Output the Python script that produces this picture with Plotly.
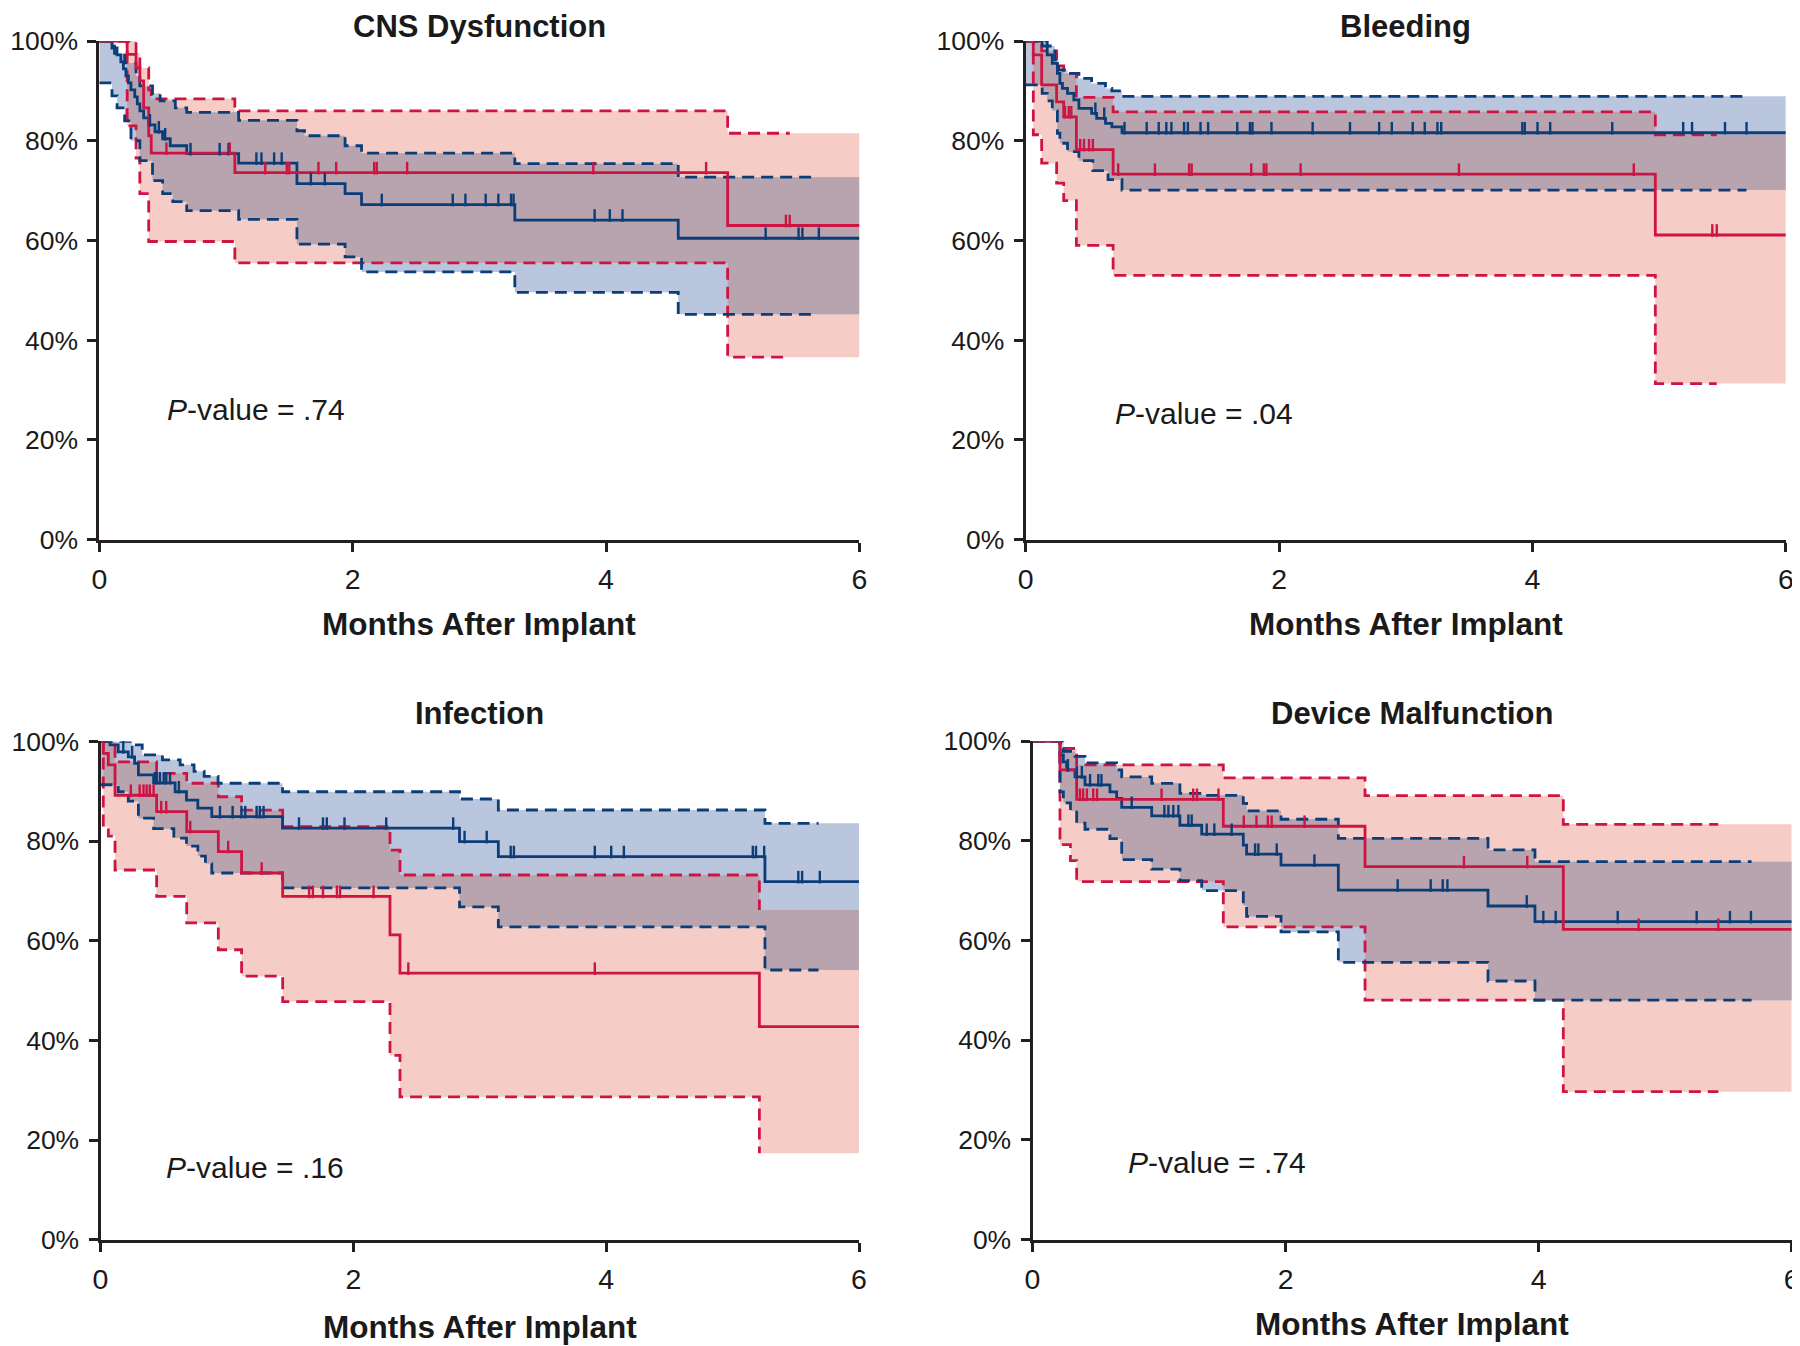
import plotly.graph_objects as go

# ---------------- data ----------------
panel_titles = ["CNS Dysfunction", "Bleeding", "Infection", "Device Malfunction"]
p_value_text = [".74", ".04", ".16", ".74"]
p_value_t = [0.517, 0.693, 0.504, 0.74]
p_value_s = [0.262, 0.2535, 0.145, 0.154]
x_tick_vals = [0, 2, 4, 6]
x_tick_text = ["0", "2", "4", "6"]
y_tick_vals = [0, 0.2, 0.4, 0.6, 0.8, 1.0]
y_tick_text = ["0%", "20%", "40%", "60%", "80%", "100%"]
x_axis_title = "Months After Implant"
months_max = 6.0

# --- CNS Dysfunction ---
cns_red_t = [0, 0.22, 0.29, 0.32, 0.35, 0.39, 0.41, 1.07, 4.96]
cns_red_s = [1.0, 0.973, 0.946, 0.92, 0.866, 0.81, 0.775, 0.736, 0.63]
cns_red_cens = [0.11, 0.53, 1.03, 1.31, 1.48, 1.50, 1.73, 1.87, 2.17, 2.19, 2.43, 3.90, 4.79, 5.42, 5.45]
cns_red_up_t = [0, 0.29, 0.32, 0.39, 0.41, 1.07, 4.96]
cns_red_up_s = [1.0, 0.976, 0.946, 0.902, 0.884, 0.86, 0.815]
cns_red_lo_t = [0, 0.22, 0.29, 0.32, 0.39, 1.07, 4.96]
cns_red_lo_s = [1.0, 0.83, 0.765, 0.694, 0.598, 0.555, 0.366]
cns_red_ci_end = 5.45

cns_blue_t = [0, 0.10, 0.14, 0.17, 0.19, 0.21, 0.23, 0.25, 0.28, 0.30, 0.32, 0.35, 0.39,
              0.44, 0.50, 0.56, 0.69, 1.10, 1.56, 1.94, 2.07, 3.28, 4.57]
cns_blue_s = [1.0, 0.986, 0.972, 0.958, 0.944, 0.93, 0.916, 0.902, 0.888, 0.874, 0.86, 0.846, 0.832,
              0.818, 0.804, 0.79, 0.774, 0.755, 0.714, 0.694, 0.672, 0.641, 0.6045]
cns_blue_cens = [0.03, 0.08, 0.40, 0.47, 0.52, 0.72, 0.95, 1.02, 1.24, 1.28, 1.38, 1.44, 1.67, 1.78,
                 2.23, 2.79, 2.89, 3.05, 3.15, 3.25, 3.27, 3.91, 4.03, 4.13, 5.26, 5.52, 5.55, 5.68]
cns_blue_up_t = [0, 0.12, 0.20, 0.29, 0.32, 0.42, 0.48, 0.60, 0.69, 1.10, 1.56, 1.62, 1.94, 2.07, 3.28, 4.57]
cns_blue_up_s = [1.0, 0.975, 0.956, 0.93, 0.91, 0.895, 0.88, 0.866, 0.857, 0.841, 0.82, 0.81, 0.79, 0.775, 0.754, 0.727]
cns_blue_lo_t = [0, 0.10, 0.14, 0.20, 0.25, 0.32, 0.42, 0.50, 0.58, 0.69, 1.10, 1.56, 1.94, 2.07, 3.28, 4.57]
cns_blue_lo_s = [0.916, 0.89, 0.866, 0.84, 0.80, 0.76, 0.72, 0.694, 0.678, 0.66, 0.6425, 0.5925, 0.567, 0.537, 0.496, 0.452]
cns_blue_ci_end = 5.67

# --- Bleeding ---
bleed_red_t = [0, 0.06, 0.126, 0.244, 0.30, 0.40, 0.69, 4.97]
bleed_red_s = [1.0, 0.972, 0.912, 0.878, 0.848, 0.782, 0.733, 0.611]
bleed_red_cens = [0.31, 0.34, 0.36, 0.43, 0.46, 0.50, 0.53, 0.73, 1.02, 1.29, 1.31, 1.78, 1.88, 1.90,
                  2.17, 3.42, 4.80, 5.42, 5.455]
bleed_red_up_t = [0, 0.126, 0.244, 0.30, 0.40, 0.69, 4.97]
bleed_red_up_s = [1.0, 0.98, 0.95, 0.935, 0.887, 0.858, 0.812]
bleed_red_lo_t = [0, 0.06, 0.126, 0.244, 0.30, 0.40, 0.69, 4.97]
bleed_red_lo_s = [1.0, 0.812, 0.755, 0.715, 0.68, 0.59, 0.53, 0.313]
bleed_red_ci_end = 5.455

bleed_blue_t = [0, 0.13, 0.17, 0.21, 0.25, 0.27, 0.29, 0.33, 0.38, 0.42, 0.52, 0.56, 0.63, 0.68, 0.76]
bleed_blue_s = [1.0, 0.99, 0.972, 0.955, 0.935, 0.915, 0.905, 0.895, 0.882, 0.865, 0.855, 0.845, 0.835, 0.828, 0.816]
bleed_blue_cens = [0.06, 0.08, 0.10, 0.55, 0.62, 0.78, 0.955, 1.05, 1.11, 1.15, 1.25, 1.28, 1.38, 1.44,
                   1.67, 1.77, 1.79, 1.94, 2.265, 2.56, 2.79, 2.89, 3.055, 3.15, 3.25, 3.28, 3.92, 3.94,
                   4.04, 4.14, 4.63, 5.19, 5.26, 5.52, 5.69]
bleed_blue_up_t = [0, 0.17, 0.23, 0.26, 0.33, 0.42, 0.52, 0.63, 0.68, 0.76]
bleed_blue_up_s = [1.0, 0.99, 0.962, 0.942, 0.935, 0.925, 0.915, 0.905, 0.90, 0.889]
bleed_blue_lo_t = [0, 0.13, 0.17, 0.21, 0.25, 0.27, 0.33, 0.42, 0.53, 0.65, 0.76]
bleed_blue_lo_s = [0.912, 0.895, 0.88, 0.86, 0.815, 0.795, 0.778, 0.76, 0.74, 0.722, 0.701]
bleed_blue_ci_end = 5.69

# --- Infection ---
inf_red_t = [0, 0.022, 0.062, 0.115, 0.444, 0.682, 0.932, 1.116, 1.441, 2.29, 2.369, 5.212]
inf_red_s = [1.0, 0.976, 0.953, 0.892, 0.859, 0.819, 0.779, 0.736, 0.689, 0.612, 0.535, 0.428]
inf_red_cens = [0.24, 0.31, 0.34, 0.365, 0.39, 0.42, 0.48, 0.52, 0.71, 1.01, 1.275, 1.65, 1.68, 1.76,
                1.87, 1.895, 2.16, 2.435, 3.91]
inf_red_up_t = [0, 0.115, 0.444, 0.682, 0.932, 1.116, 1.441, 2.29, 2.369, 5.212]
inf_red_up_s = [1.0, 0.959, 0.936, 0.916, 0.889, 0.862, 0.829, 0.782, 0.732, 0.662]
inf_red_lo_t = [0, 0.022, 0.062, 0.115, 0.444, 0.682, 0.932, 1.116, 1.441, 2.29, 2.369, 5.212]
inf_red_lo_s = [1.0, 0.829, 0.81, 0.742, 0.689, 0.636, 0.582, 0.529, 0.478, 0.37, 0.287, 0.174]
inf_red_ci_end = 5.212

inf_blue_t = [0, 0.075, 0.14, 0.22, 0.27, 0.30, 0.42, 0.59, 0.68, 0.77, 0.88, 1.44, 2.84, 3.147, 5.256]
inf_blue_s = [1.0, 0.993, 0.979, 0.969, 0.956, 0.933, 0.917, 0.899, 0.882, 0.866, 0.849, 0.826, 0.799, 0.769, 0.7186]
inf_blue_cens = [0.06, 0.09, 0.115, 0.18, 0.25, 0.43, 0.445, 0.47, 0.50, 0.52, 0.55, 0.62, 0.945, 1.045,
                 1.115, 1.145, 1.235, 1.26, 1.29, 1.57, 1.76, 1.79, 1.93, 2.26, 2.79, 2.88, 3.055, 3.245,
                 3.27, 3.91, 4.04, 4.14, 5.16, 5.185, 5.25, 5.52, 5.55, 5.69]
inf_blue_up_t = [0, 0.25, 0.33, 0.49, 0.63, 0.74, 0.82, 0.93, 1.44, 2.84, 3.147, 5.256]
inf_blue_up_s = [1.0, 0.993, 0.973, 0.963, 0.953, 0.94, 0.93, 0.916, 0.899, 0.8845, 0.8624, 0.8357]
inf_blue_lo_t = [0, 0.14, 0.22, 0.30, 0.42, 0.58, 0.68, 0.77, 0.83, 0.88, 1.44, 2.84, 3.147, 5.256]
inf_blue_lo_s = [0.913, 0.899, 0.88, 0.846, 0.825, 0.806, 0.79, 0.77, 0.755, 0.736, 0.706, 0.668, 0.628, 0.5414]
inf_blue_ci_end = 5.68

# --- Device Malfunction ---
dev_red_t = [0, 0.217, 0.349, 1.508, 2.628, 4.195]
dev_red_s = [1.0, 0.942, 0.883, 0.829, 0.748, 0.6223]
dev_red_cens = [0.375, 0.40, 0.43, 0.48, 0.51, 1.02, 1.27, 1.30, 1.47, 1.67, 1.77, 1.86, 1.89, 2.15,
                3.41, 3.91, 4.79, 5.42]
dev_red_up_t = [0, 0.217, 0.349, 1.508, 2.628, 4.195]
dev_red_up_s = [1.0, 0.985, 0.952, 0.926, 0.8904, 0.8329]
dev_red_lo_t = [0, 0.217, 0.30, 0.349, 1.508, 2.628, 4.195]
dev_red_lo_s = [1.0, 0.792, 0.76, 0.718, 0.627, 0.48, 0.2965]
dev_red_ci_end = 5.42

dev_blue_t = [0, 0.217, 0.244, 0.27, 0.336, 0.415, 0.612, 0.665, 0.705, 0.942, 1.165, 1.337, 1.666,
              1.692, 1.964, 2.417, 3.6, 3.971]
dev_blue_s = [1.0, 0.972, 0.958, 0.942, 0.928, 0.912, 0.898, 0.885, 0.867, 0.85, 0.831, 0.813, 0.791,
              0.773, 0.751, 0.701, 0.669, 0.6375]
dev_blue_cens = [0.06, 0.086, 0.112, 0.138, 0.157, 0.28, 0.35, 0.39, 0.455, 0.52, 0.545, 0.784, 1.042,
                 1.074, 1.113, 1.153, 1.232, 1.258, 1.377, 1.437, 1.574, 1.759, 1.785, 1.93, 2.228,
                 2.886, 3.147, 3.242, 3.279, 3.906, 4.037, 4.135, 4.625, 5.249, 5.512, 5.678]
dev_blue_up_t = [0, 0.244, 0.336, 0.415, 0.665, 0.705, 0.942, 1.165, 1.337, 1.666, 1.692, 1.964, 2.417, 3.6, 3.971]
dev_blue_up_s = [1.0, 0.979, 0.969, 0.956, 0.942, 0.928, 0.915, 0.895, 0.891, 0.875, 0.86, 0.843, 0.8048, 0.7814, 0.7579]
dev_blue_lo_t = [0, 0.217, 0.244, 0.30, 0.349, 0.415, 0.612, 0.705, 0.942, 1.165, 1.337, 1.666, 1.692,
                 1.964, 2.417, 3.6, 3.971]
dev_blue_lo_s = [1.0, 0.898, 0.876, 0.86, 0.835, 0.823, 0.804, 0.762, 0.743, 0.72, 0.70, 0.67, 0.648,
                 0.617, 0.556, 0.5186, 0.48]
dev_blue_ci_end = 5.683

# ---------------- styles ----------------
RED = "#CD1443"
BLUE = "#0B3E78"
RED_FILL = "#F5CDC6"
BLUE_FILL = "#B9C6DD"
BOTH_FILL = "#B7A4AF"
AXIS = "#231F20"
TXT = "#1a1a1a"
FONT = "Liberation Sans, Arial, Helvetica, sans-serif"
PAGE_OFF = 8                       # default page margin of the html body
W, H = 1800 - PAGE_OFF, 1346 - PAGE_OFF
LW = 2.8

# plot-area pixel boxes in window pixels (left, right, top, bottom)
boxes = [(99.3, 859.4, 41.0, 539.7), (1025.7, 1785.8, 41.0, 539.7),
         (100.5, 859.0, 741.4, 1239.9), (1032.5, 1791.7, 741.0, 1239.5)]
xtitle_py = [624, 624, 1327, 1324]


def px_x(p):
    return (p - PAGE_OFF) / W


def px_y(p):
    return 1 - (p - PAGE_OFF) / H


def group(t, s, cens, up_t, up_s, lo_t, lo_s, ci_end):
    return dict(t=t, s=s, cens=cens, up_t=up_t, up_s=up_s, lo_t=lo_t, lo_s=lo_s, ci_end=ci_end)


panels = [
    (group(cns_red_t, cns_red_s, cns_red_cens, cns_red_up_t, cns_red_up_s, cns_red_lo_t, cns_red_lo_s, cns_red_ci_end),
     group(cns_blue_t, cns_blue_s, cns_blue_cens, cns_blue_up_t, cns_blue_up_s, cns_blue_lo_t, cns_blue_lo_s, cns_blue_ci_end)),
    (group(bleed_red_t, bleed_red_s, bleed_red_cens, bleed_red_up_t, bleed_red_up_s, bleed_red_lo_t, bleed_red_lo_s, bleed_red_ci_end),
     group(bleed_blue_t, bleed_blue_s, bleed_blue_cens, bleed_blue_up_t, bleed_blue_up_s, bleed_blue_lo_t, bleed_blue_lo_s, bleed_blue_ci_end)),
    (group(inf_red_t, inf_red_s, inf_red_cens, inf_red_up_t, inf_red_up_s, inf_red_lo_t, inf_red_lo_s, inf_red_ci_end),
     group(inf_blue_t, inf_blue_s, inf_blue_cens, inf_blue_up_t, inf_blue_up_s, inf_blue_lo_t, inf_blue_lo_s, inf_blue_ci_end)),
    (group(dev_red_t, dev_red_s, dev_red_cens, dev_red_up_t, dev_red_up_s, dev_red_lo_t, dev_red_lo_s, dev_red_ci_end),
     group(dev_blue_t, dev_blue_s, dev_blue_cens, dev_blue_up_t, dev_blue_up_s, dev_blue_lo_t, dev_blue_lo_s, dev_blue_ci_end)),
]


def step_eval(ts, vs, x):
    v = vs[0]
    for t, s in zip(ts, vs):
        if t <= x + 1e-12:
            v = s
        else:
            break
    return v


def band_polygon(lo_fns, hi_fns, breaks):
    bps = sorted(set([b for b in breaks if b < months_max] + [months_max]))
    runs, cur = [], []
    for a, b in zip(bps[:-1], bps[1:]):
        lo = max(f(a) for f in lo_fns)
        hi = min(f(a) for f in hi_fns)
        if hi > lo + 1e-9:
            cur.append((a, b, lo, hi))
        else:
            if cur:
                runs.append(cur)
            cur = []
    if cur:
        runs.append(cur)
    xs, ys = [], []
    for run in runs:
        pts = []
        for a, b, lo, hi in run:
            pts += [(a, hi), (b, hi)]
        for a, b, lo, hi in reversed(run):
            pts += [(b, lo), (a, lo)]
        xs += [p[0] for p in pts] + [None]
        ys += [p[1] for p in pts] + [None]
    return xs, ys


fig = go.Figure()
annotations = []
layout_axes = {}

for i, (red, blue) in enumerate(panels):
    n = "" if i == 0 else str(i + 1)
    xa, ya = "x" + n, "y" + n
    l, r, t, b = boxes[i]
    common = dict(ticks="outside", ticklen=9, tickwidth=3, tickcolor=AXIS, showline=True, linewidth=3,
                  linecolor=AXIS, showgrid=False, zeroline=False, automargin=False, fixedrange=True)
    layout_axes["xaxis" + n] = dict(domain=[px_x(l), px_x(r)], range=[0, months_max], anchor=ya,
                                    tickvals=x_tick_vals, ticktext=x_tick_text, ticklabelstandoff=3,
                                    tickfont=dict(size=28.5, color=TXT, family=FONT), **common)
    layout_axes["yaxis" + n] = dict(domain=[px_y(b), px_y(t)], range=[0, 1], anchor=xa,
                                    tickvals=y_tick_vals, ticktext=y_tick_text, ticklabelstandoff=4,
                                    tickfont=dict(size=26.5, color=TXT, family=FONT), **common)

    def fns(g):
        return (lambda x, g=g: step_eval(g["lo_t"], g["lo_s"], x),
                lambda x, g=g: step_eval(g["up_t"], g["up_s"], x))

    rlo, rhi = fns(red)
    blo, bhi = fns(blue)
    # bands
    for lo_f, hi_f, g, col in [(rlo, rhi, red, RED_FILL), (blo, bhi, blue, BLUE_FILL)]:
        px, py = band_polygon([lo_f], [hi_f], g["lo_t"] + g["up_t"])
        fig.add_trace(go.Scatter(x=px, y=py, xaxis=xa, yaxis=ya, mode="lines", fill="toself",
                                 fillcolor=col, line=dict(width=0), hoverinfo="skip", showlegend=False))
    px, py = band_polygon([rlo, blo], [rhi, bhi], red["lo_t"] + red["up_t"] + blue["lo_t"] + blue["up_t"])
    fig.add_trace(go.Scatter(x=px, y=py, xaxis=xa, yaxis=ya, mode="lines", fill="toself",
                             fillcolor=BOTH_FILL, line=dict(width=0), hoverinfo="skip", showlegend=False))

    # confidence limits (dashed)
    for g, col in [(red, RED), (blue, BLUE)]:
        for kt, ks in [("up_t", "up_s"), ("lo_t", "lo_s")]:
            fig.add_trace(go.Scatter(
                x=g[kt] + [g["ci_end"]], y=g[ks] + [g[ks][-1]], xaxis=xa, yaxis=ya, mode="lines",
                line=dict(color=col, width=LW, dash="12px,7px", shape="hv"),
                hoverinfo="skip", showlegend=False))
    # survival curves
    for g, col in [(blue, BLUE), (red, RED)]:
        fig.add_trace(go.Scatter(
            x=g["t"] + [months_max], y=g["s"] + [g["s"][-1]], xaxis=xa, yaxis=ya, mode="lines",
            line=dict(color=col, width=LW, shape="hv"), hoverinfo="skip", showlegend=False))
    # censor marks (ticks rising from the curve)
    tick_h = 9.0 / (b - t)
    for g, col in [(blue, BLUE), (red, RED)]:
        cy = [step_eval(g["t"], g["s"], c) + tick_h / 2 for c in g["cens"]]
        fig.add_trace(go.Scatter(
            x=g["cens"], y=cy, xaxis=xa, yaxis=ya, mode="markers", cliponaxis=False,
            marker=dict(symbol="line-ns", size=9, line=dict(width=2.4, color=col)),
            hoverinfo="skip", showlegend=False))

    cx = px_x((l + r) / 2)
    if i < 2:
        ttl = dict(y=1.0, yanchor="top")
    else:
        ttl = dict(y=px_y(713), yanchor="middle")
    annotations.append(dict(text="<b>" + panel_titles[i] + "</b>", xref="paper", yref="paper",
                            x=cx, xanchor="center", showarrow=False, borderpad=0,
                            font=dict(size=31, color=TXT, family=FONT), **ttl))
    annotations.append(dict(text="<b>" + x_axis_title + "</b>", xref="paper", yref="paper",
                            x=cx, y=px_y(xtitle_py[i]), xanchor="center", yanchor="middle",
                            showarrow=False, font=dict(size=31.5, color=TXT, family=FONT)))
    annotations.append(dict(text="<i>P</i>-value = " + p_value_text[i], xref=xa, yref=ya,
                            x=p_value_t[i], y=p_value_s[i], xanchor="left", yanchor="middle",
                            showarrow=False, font=dict(size=30, color=TXT, family=FONT)))

fig.update_layout(width=W, height=H, margin=dict(l=0, r=0, t=0, b=0, pad=0, autoexpand=False),
                  paper_bgcolor="white", plot_bgcolor="white", showlegend=False,
                  annotations=annotations, font=dict(family=FONT), **layout_axes)
fig.write_html("out.html")
